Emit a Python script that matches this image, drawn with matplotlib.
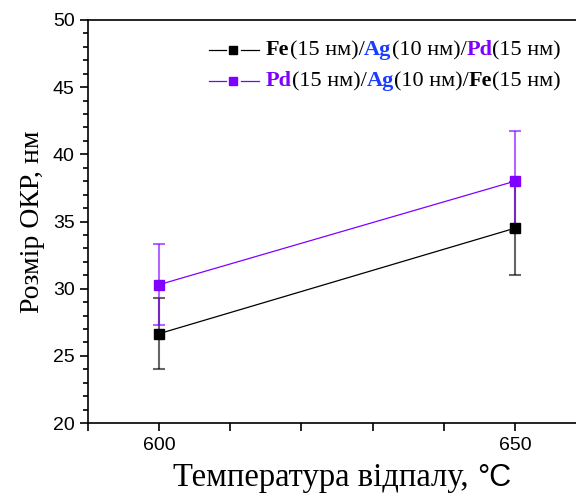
"""Crystallite size vs annealing temperature for Fe/Ag/Pd and Pd/Ag/Fe films."""

import matplotlib
matplotlib.use("Agg")
import matplotlib.pyplot as plt
from matplotlib.lines import Line2D
from matplotlib.offsetbox import (AnchoredOffsetbox, DrawingArea, HPacker,
                                  TextArea, VPacker)
from matplotlib.ticker import MultipleLocator

temps = [600, 650]
fe_ag_pd = [26.65, 34.5]
fe_ag_pd_err = [2.65, 3.45]
pd_ag_fe = [30.3, 38.0]
pd_ag_fe_err = [3.0, 3.75]

BLACK = "#000000"
PURPLE = "#8000FF"
BLUE = "#1A3CFF"

SERIF = "Liberation Serif"
SANS = "Liberation Sans"

# legend labels as (text, colour, bold) pieces
labels = [
    [("Fe", BLACK, True), ("(15 нм)/", BLACK, False), ("Ag", BLUE, True),
     ("(10 нм)/", BLACK, False), ("Pd", PURPLE, True), ("(15 нм)", BLACK, False)],
    [("Pd", PURPLE, True), ("(15 нм)/", BLACK, False), ("Ag", BLUE, True),
     ("(10 нм)/", BLACK, False), ("Fe", BLACK, True), ("(15 нм)", BLACK, False)],
]

fig = plt.figure(figsize=(5.76, 4.94), dpi=100)
W, H = 576, 494
ax = fig.add_axes([88 / W, (H - 423) / H, (586 - 88) / W, (423 - 20) / H])

for vals, errs, col in [(fe_ag_pd, fe_ag_pd_err, BLACK), (pd_ag_fe, pd_ag_fe_err, PURPLE)]:
    ax.errorbar(temps, vals, yerr=errs, fmt="none", ecolor=col, alpha=0.6,
                elinewidth=1.5, capsize=4, capthick=1.5, zorder=2)
    ax.plot(temps, vals, color=col, lw=0.9, marker="s", ms=7.5,
            mfc=col, mec=col, zorder=3)

ax.set_xlim(590, 660)
ax.set_ylim(20, 50)
ax.xaxis.set_major_locator(MultipleLocator(50))
ax.xaxis.set_minor_locator(MultipleLocator(10))
ax.yaxis.set_major_locator(MultipleLocator(5))
ax.yaxis.set_minor_locator(MultipleLocator(1))
ax.tick_params(which="major", direction="out", length=6, width=1.2, labelsize=14)
ax.tick_params(which="minor", direction="out", length=3.5, width=1.2)
ax.tick_params(axis="x", which="minor", length=6)
ax.tick_params(axis="x", which="major", pad=4)
for lab in ax.get_xticklabels() + ax.get_yticklabels():
    lab.set_family(SANS)
for s in ["left", "bottom", "top"]:
    ax.spines[s].set_linewidth(1.2)
ax.spines["right"].set_visible(False)

ax.set_ylabel("Розмір ОКР, нм", family=SERIF, fontsize=20, labelpad=6)

# x label: serif words, sans "°C"
xlab = HPacker(children=[
    TextArea("Температура відпалу, ", textprops=dict(family=SERIF, fontsize=23.5)),
    TextArea("°C", textprops=dict(family=SANS, fontsize=22)),
], align="baseline", pad=0, sep=0)
fig.add_artist(AnchoredOffsetbox(loc="lower center", child=xlab, frameon=False,
                                 bbox_to_anchor=(342 / W, 1 / H),
                                 bbox_transform=fig.transFigure, borderpad=0, pad=0))

# multi-coloured legend
rows = []
for pieces, col in zip(labels, [BLACK, PURPLE]):
    da = DrawingArea(36, 8, 0, 0)
    da.add_artist(Line2D([0, 12], [4, 4], color=col, lw=0.9))
    da.add_artist(Line2D([23, 36], [4, 4], color=col, lw=0.9))
    da.add_artist(Line2D([17.5], [4], marker="s", ms=6, color=col, lw=0))
    txt = HPacker(children=[
        TextArea(s, textprops=dict(color=c, family=SERIF, fontsize=16,
                                   weight="bold" if b else "normal"))
        for s, c, b in pieces], align="baseline", pad=0, sep=0)
    rows.append(HPacker(children=[da, txt], align="center", pad=0, sep=5))
box = VPacker(children=rows, align="left", pad=0, sep=8)
fig.add_artist(AnchoredOffsetbox(loc="upper right", child=box, frameon=False,
                                 bbox_to_anchor=(561 / W, (H - 40) / H),
                                 bbox_transform=fig.transFigure, borderpad=0, pad=0))

fig.savefig("out.png", dpi=100)
